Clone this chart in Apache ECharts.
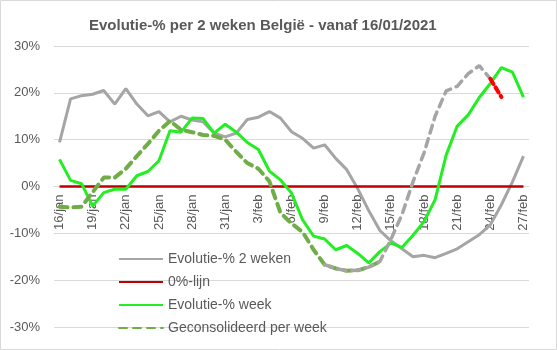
<!DOCTYPE html>
<html>
<head>
<meta charset="utf-8">
<script src="https://cdn.jsdelivr.net/npm/echarts@6/dist/echarts.min.js"></script>
<style>
html,body{margin:0;padding:0;background:#fff;}
#c{width:557px;height:350px;}
</style>
</head>
<body>
<div id="c"></div>
<script>
const categories = ['16/jan','17/jan','18/jan','19/jan','20/jan','21/jan','22/jan','23/jan','24/jan','25/jan','26/jan','27/jan','28/jan','29/jan','30/jan','31/jan',
  '1/feb','2/feb','3/feb','4/feb','5/feb','6/feb','7/feb','8/feb','9/feb','10/feb','11/feb','12/feb','13/feb','14/feb','15/feb','16/feb','17/feb','18/feb','19/feb','20/feb','21/feb','22/feb','23/feb','24/feb','25/feb','26/feb','27/feb'];

const evol2weken = [9.4,18.7,19.4,19.7,20.5,17.6,20.9,17.6,15.1,16.0,13.8,15.0,14.2,
  13.8,11.4,10.6,11.4,14.3,14.8,16.0,14.6,11.7,10.3,8.2,8.9,6.0,3.6,
  -0.5,-5.2,-9.4,-11.6,-13.3,-15.0,-14.7,-15.2,-14.3,-13.3,-11.8,-10.3,-8.2,-3.9,1.0,6.5];

const nulLijn = [0,0,0,0,0,0,0,0,0,0,0,0,0,0,0,0,0,0,0,0,0,0,0,0,0,0,0,0,0,0,0,0,0,0,0,0,0,0,0,0,0,0,0];

const evolWeek = [5.8,1.3,0.6,-4.2,-1.3,-0.6,-0.6,2.3,3.2,5.5,
  11.9,11.6,14.6,14.5,11.4,13.3,11.6,9.4,7.9,3.3,
  1.4,-1.4,-7.1,-10.6,-11.2,-13.5,-12.6,-14.3,-16.3,-13.9,
  -12.1,-13.0,-10.4,-7.5,-2.8,6.7,12.9,15.3,19.0,22.0,25.4,24.4,19.1];

const geconsolideerd = [-4.3,-4.5,-4.3,-1.2,1.9,1.9,3.8,6.5,9.1,11.9,14.0,12.1,11.6,11.0,10.8,10.0,7.4,5.0,3.8,1.1,
  -5.6,-7.9,-9.7,-13.5,-16.7,-17.5,-18.0,-17.9,-17.2,-16.0,
  null,null,null,null,null,null,null,null,null,null,null,null,null];

const prognose = [null,null,null,null,null,null,null,null,null,null,null,null,null,null,null,null,null,null,null,null,null,null,null,null,
  -16.7,-17.5,-18.0,-17.9,-17.2,-16.0,-11.3,-6.0,1.0,7.2,15.0,20.4,21.4,24.1,25.8,23.0,
  null,null,null];

const prognoseRood = [null,null,null,null,null,null,null,null,null,null,null,null,null,null,null,null,null,null,null,null,null,null,null,null,
  null,null,null,null,null,null,null,null,null,null,null,null,null,null,null,23.0,19.1,null,null];

const names = ['Evolutie-% 2 weken','0%-lijn','Evolutie-% week','Geconsolideerd per week'];
const FONT = 'Liberation Sans, Arial, sans-serif';

const GRID_TOP = 46, GRID_BOTTOM = 23, H = 350;
const plotH = H - GRID_TOP - GRID_BOTTOM;
// move the category axis up to the 0% level (middle of the -30..30 range)
const axisOffset = -plotH / 2;

const chart = echarts.init(document.getElementById('c'), null, {renderer:'canvas'});
chart.setOption({
  animation: false,
  graphic: [{
    type: 'rect', shape: {x: 0.5, y: 0.5, width: 556, height: 349},
    style: {fill: 'none', stroke: '#D9D9D9', lineWidth: 1}, silent: true, z: -1
  }],
  title: {
    text: 'Evolutie-% per 2 weken België - vanaf 16/01/2021',
    left: 84, top: 13,
    textStyle: {fontFamily: FONT, fontSize: 15, fontWeight: 'bold', color: '#595959'}
  },
  grid: {left: 54, right: 28, top: GRID_TOP, bottom: GRID_BOTTOM},
  legend: {
    data: names, orient: 'vertical', left: 113, top: 247,
    itemWidth: 44, itemHeight: 14, itemGap: 9,
    itemStyle: {opacity: 0},
    textStyle: {fontFamily: FONT, fontSize: 14, color: '#595959'}
  },
  xAxis: {
    type: 'category', data: categories, boundaryGap: true,
    position: 'bottom', offset: axisOffset,
    axisLine: {onZero: false, lineStyle: {color: '#D9D9D9'}},
    axisTick: {interval: 2, length: 5, lineStyle: {color: '#D9D9D9'}},
    axisLabel: {interval: 2, rotate: 90, margin: 8, fontFamily: FONT, fontSize: 13, color: '#595959'},
    splitLine: {show: false}
  },
  yAxis: {
    type: 'value', min: -30, max: 30, interval: 10,
    axisLine: {show: false}, axisTick: {show: false},
    axisLabel: {formatter: '{value}%', margin: 14, fontFamily: FONT, fontSize: 13, color: '#595959'},
    splitLine: {lineStyle: {color: '#D9D9D9', width: 1}}
  },
  series: [
    {name: names[0], type: 'line', data: evol2weken, symbol: 'none', lineStyle: {color: '#A5A5A5', width: 3}, itemStyle: {color: '#A5A5A5'}, z: 2},
    {name: names[1], type: 'line', data: nulLijn, symbol: 'none', lineStyle: {color: '#C00000', width: 2.5}, itemStyle: {color: '#C00000'}, z: 3},
    {name: names[2], type: 'line', data: evolWeek, symbol: 'none', lineStyle: {color: '#22EE22', width: 3}, itemStyle: {color: '#22EE22'}, z: 4},
    {name: names[3], type: 'line', data: geconsolideerd, symbol: 'none', lineStyle: {color: '#70AD47', width: 4, type: [8, 6], cap: 'round'}, itemStyle: {color: '#70AD47'}, z: 5},
    {name: 'prognose', type: 'line', data: prognose, symbol: 'none', lineStyle: {color: '#A5A5A5', width: 3.5, type: [8, 6], cap: 'round'}, itemStyle: {color: '#A5A5A5'}, z: 5},
    {name: 'prognose rood', type: 'line', data: prognoseRood, symbol: 'none', lineStyle: {color: '#FF0000', width: 4, type: [6, 4], cap: 'round'}, itemStyle: {color: '#FF0000'}, z: 6}
  ]
});
</script>
</body>
</html>
